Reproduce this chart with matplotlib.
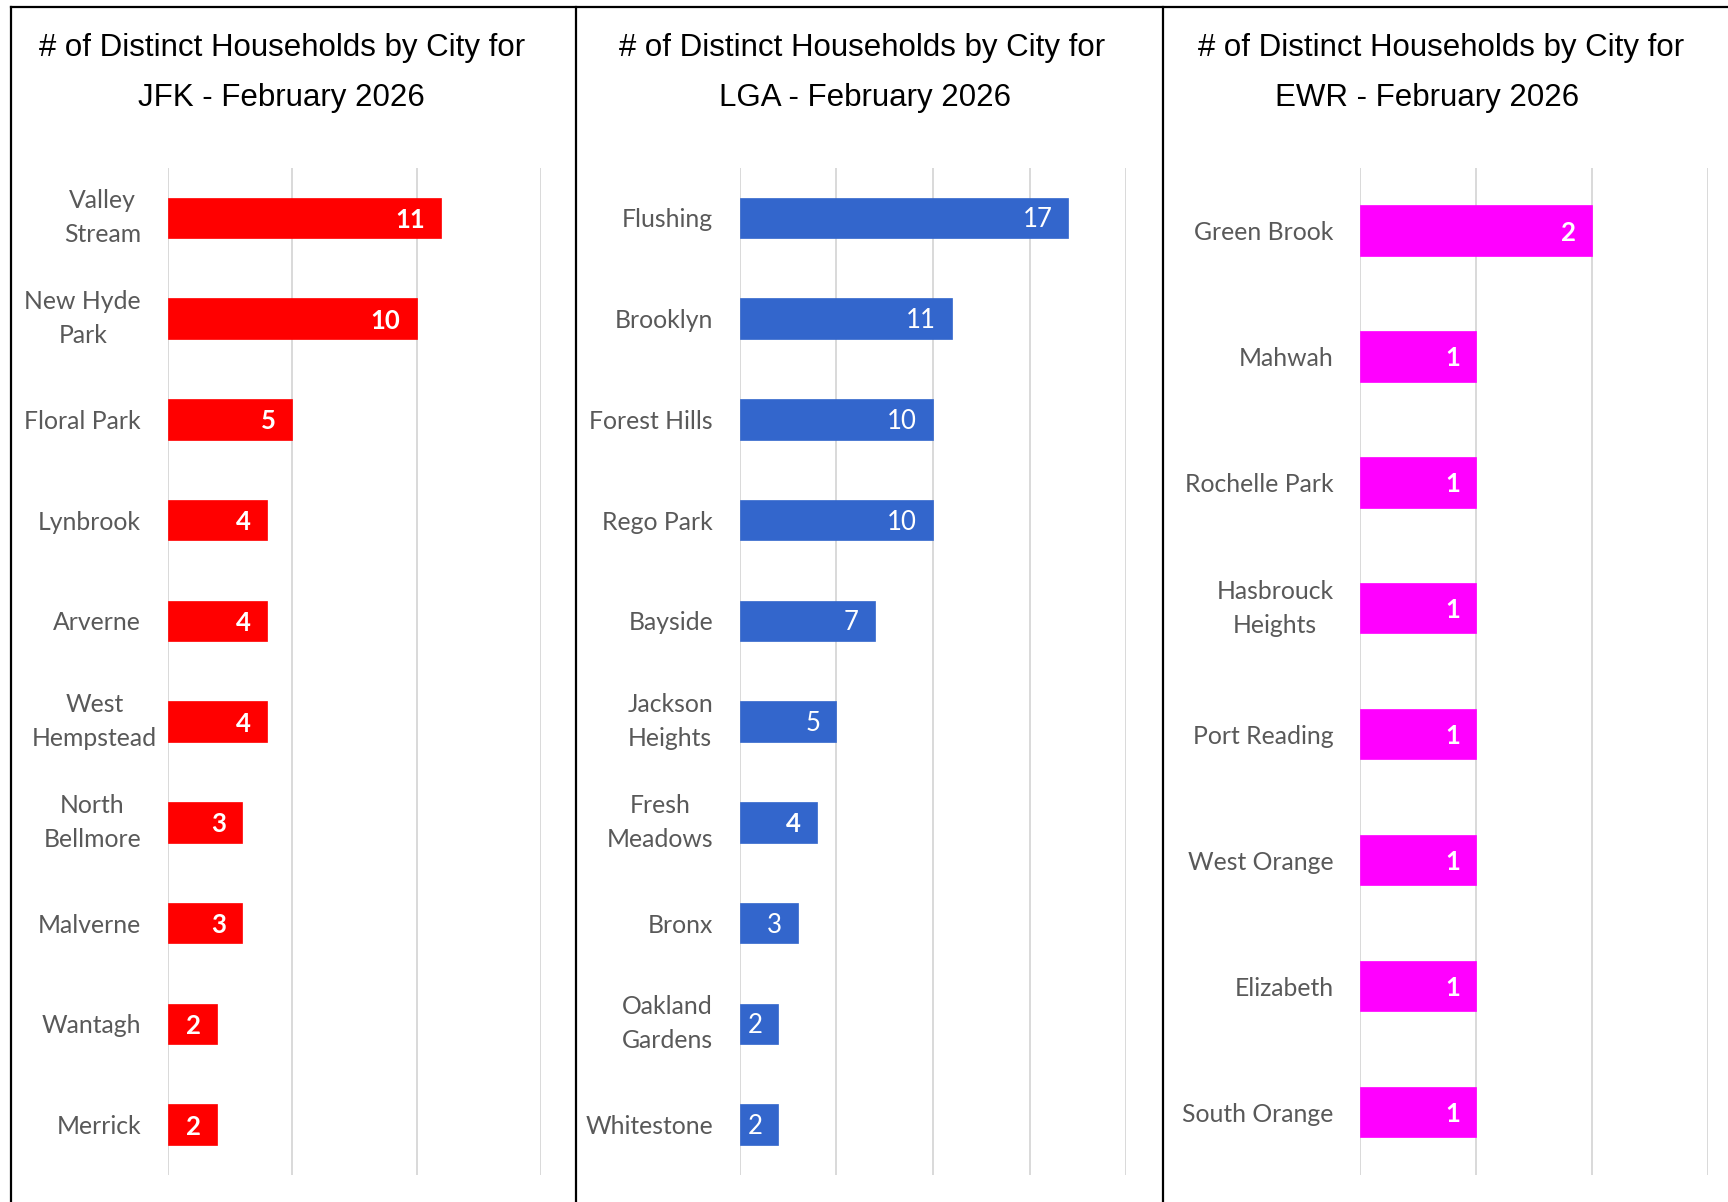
import matplotlib
matplotlib.use("Agg")
import matplotlib.pyplot as plt
from matplotlib.lines import Line2D

# data, top to bottom as shown
jfk_cities = ["Valley\nStream", "New Hyde\nPark", "Floral Park", "Lynbrook", "Arverne",
              "West\nHempstead", "North\nBellmore", "Malverne", "Wantagh", "Merrick"]
jfk_counts = [11, 10, 5, 4, 4, 4, 3, 3, 2, 2]

lga_cities = ["Flushing", "Brooklyn", "Forest Hills", "Rego Park", "Bayside",
              "Jackson\nHeights", "Fresh\nMeadows", "Bronx", "Oakland\nGardens", "Whitestone"]
lga_counts = [17, 11, 10, 10, 7, 5, 4, 3, 2, 2]
lga_bold = [False, False, False, False, False, False, True, False, False, False]

ewr_cities = ["Green Brook", "Mahwah", "Rochelle Park", "Hasbrouck\nHeights",
              "Port Reading", "West Orange", "Elizabeth", "South Orange"]
ewr_counts = [2, 1, 1, 1, 1, 1, 1, 1]

W, H = 1728, 1202
fig = plt.figure(figsize=(W / 100, H / 100), dpi=100)

label_font = "Lato"
title_font = "Liberation Sans"


def panel(left_px, right_px, cities, counts, color, xmax, step, bold, title, title_x, title2_x):
    width_px = right_px - left_px
    ax = fig.add_axes([left_px / W, 1 - 1175 / H, width_px / W, 1007.5 / H])
    pos = list(range(len(cities)))
    ax.barh(pos, counts, height=0.4, color=color, edgecolor=color, linewidth=0.5, zorder=3)
    ax.set_ylim(len(cities) - 0.5, -0.5)
    ax.set_xlim(0, xmax)
    ax.set_xticks(range(0, xmax + 1, step))
    ax.xaxis.grid(True, color="#D9D9D9", linewidth=1.4, zorder=0)
    ax.set_axisbelow(True)
    for s in ax.spines.values():
        s.set_visible(False)
    ax.tick_params(axis="x", length=0, labelbottom=False)
    ax.tick_params(axis="y", length=0, pad=19)
    ax.set_yticks(pos)
    ax.set_yticklabels(cities, fontsize=17.8, color="#595959", family=label_font,
                       multialignment="center", linespacing=1.57)
    for lab in ax.get_yticklabels():
        if "\n" in lab.get_text():
            lab.set_verticalalignment("center")
        # a long wrapped label sticks out a bit toward the bars in the original
        if "Hempstead" in lab.get_text():
            lab.set_x(16 / width_px)
    for i, v in enumerate(counts):
        ax.annotate(str(v), (v, i), xytext=(-11.5, -1.5), textcoords="offset points",
                    ha="right", va="center", color="white", fontsize=18.5,
                    family=label_font, fontweight="bold" if bold[i] else "normal")
    fig.text(title_x / W, 1 - 48 / H, "# of Distinct Households by City for",
             ha="center", va="center", fontsize=22.5, family=title_font)
    fig.text(title2_x / W, 1 - 98 / H, title, ha="center", va="center",
             fontsize=22.5, family=title_font)
    return ax


panel(167.5, 541, jfk_cities, jfk_counts, "#FF0000", 15, 5, [True] * len(jfk_counts),
      "JFK - February 2026", 282, 281)
panel(739.5, 1126.3, lga_cities, lga_counts, "#3366CC", 20, 5, lga_bold,
      "LGA - February 2026", 862, 865)
panel(1360, 1708, ewr_cities, ewr_counts, "#FF00FF", 3, 1, [True] * len(ewr_counts),
      "EWR - February 2026", 1441, 1427)

# panel frame lines
lw = 1.6
fig.add_artist(Line2D([11 / W, 1], [1 - 7 / H, 1 - 7 / H], color="black", lw=lw))
for x in [11, 576, 1162.5]:
    fig.add_artist(Line2D([x / W, x / W], [0, 1 - 7 / H], color="black", lw=lw))

fig.savefig("out.png", dpi=100, facecolor="white")
